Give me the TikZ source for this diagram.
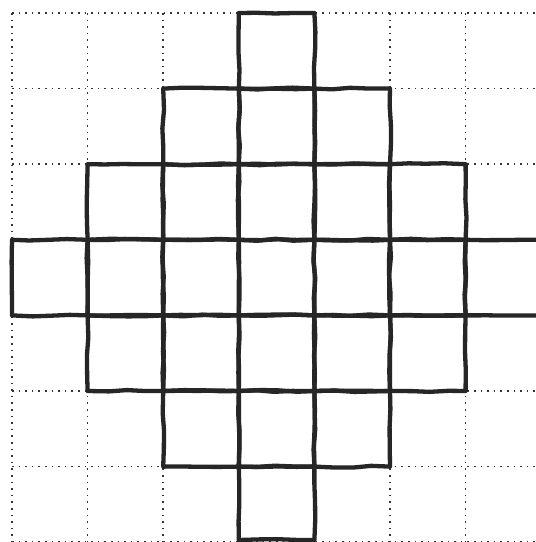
\documentclass[tikz,border=0pt]{standalone}
\usetikzlibrary{decorations.pathmorphing}
\definecolor{ink}{HTML}{262626}
\definecolor{dotc}{HTML}{333333}
\tikzset{
  gridline/.style={dotc, line width=1.5pt, dash pattern=on 1.5pt off 5.1pt},
  cellline/.style={ink, line width=4.3pt, line cap=round, line join=round,
    decorate, decoration={random steps, segment length=18pt, amplitude=1pt}},
}
\begin{document}
\begin{tikzpicture}[x=1pt,y=-1pt]
\pgfmathsetseed{7}
\useasboundingbox (0,0) rectangle (536,542);
\fill[white] (0,0) rectangle (536,542);
\clip (0,0) rectangle (536,542);
\def\s{75.6}
% dotted background grid
\foreach \i in {0,...,6} {
  \draw[gridline] ({12+\s*\i},13) -- ({12+\s*\i},545);
  \draw[gridline] (12,{13+\s*\i}) -- (545,{13+\s*\i});
}
\draw[gridline] (12,542) -- (545,542);
% diamond of cells
\foreach \r/\a/\b in {0/3/3,1/2/4,2/1/5,3/0/6,4/1/5,5/2/4,6/3/3} {
  \foreach \c in {\a,...,\b} {
    \draw[cellline] ({12+\s*\c},{13+\s*\r}) -- ({12+\s*(\c+1)},{13+\s*\r})
      -- ({12+\s*(\c+1)},{min(13+\s*(\r+1),540)}) -- ({12+\s*\c},{min(13+\s*(\r+1),540)}) -- cycle;
  }
}
\end{tikzpicture}
\end{document}
